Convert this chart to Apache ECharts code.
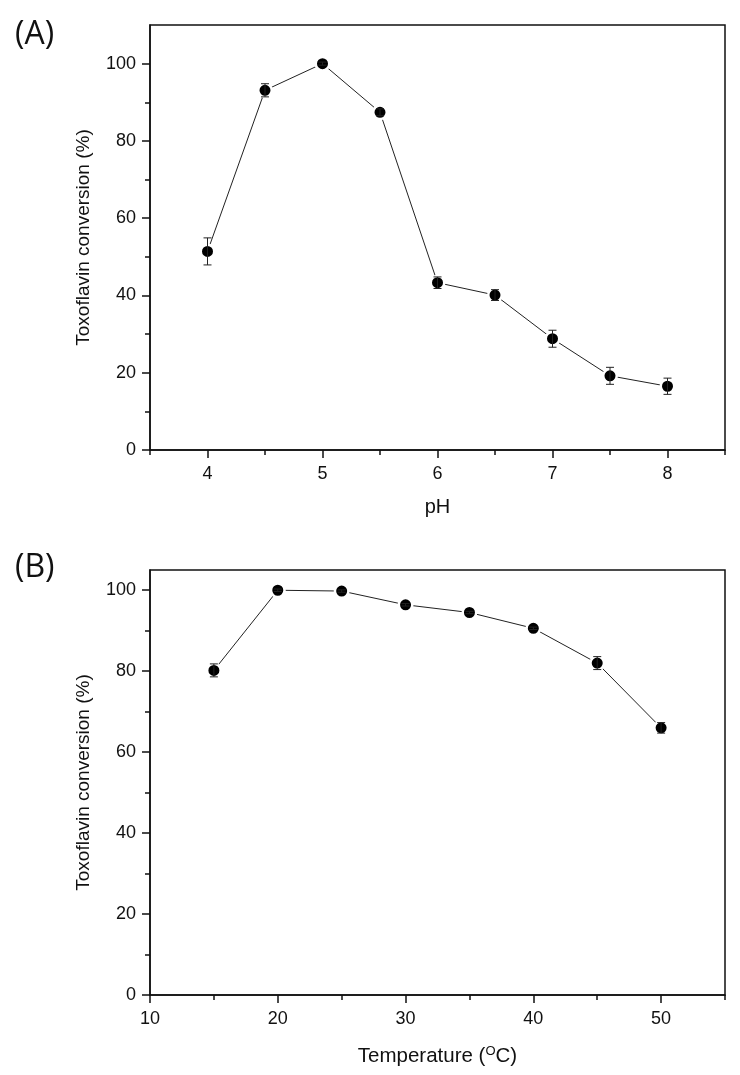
<!DOCTYPE html>
<html><head><meta charset="utf-8">
<script src="https://cdn.jsdelivr.net/npm/echarts@6/dist/echarts.min.js"></script>
<style>html,body{margin:0;padding:0;background:#fff}#c{width:740px;height:1075px}</style>
</head><body><div id="c"></div>
<script>
// Panel A: pH
const phX = [4, 4.5, 5, 5.5, 6, 6.5, 7, 7.5, 8];
const phMean = [51.4, 93.1, 100, 87.4, 43.3, 40.1, 28.8, 19.2, 16.5];
const phErr = [3.5, 1.7, 0.4, 0.9, 1.5, 1.4, 2.2, 2.2, 2.1];
const phTicks = [4, 5, 6, 7, 8];
const phMinor = [3.5, 4.5, 5.5, 6.5, 7.5, 8.5];
// Panel B: Temperature
const tempX = [15, 20, 25, 30, 35, 40, 45, 50];
const tempMean = [80.2, 100, 99.8, 96.4, 94.5, 90.6, 82.0, 66.0];
const tempErr = [1.6, 0.3, 0.3, 0.3, 0.3, 0.3, 1.6, 1.3];
const tempTicks = [10, 20, 30, 40, 50];
const tempMinor = [15, 25, 35, 45, 55];
// Shared y ticks
const yTicks = [0, 20, 40, 60, 80, 100];
const yMinor = [10, 30, 50, 70, 90];

const FONT = 'Liberation Sans, Arial, sans-serif';
const INK = '#111';
const chart = echarts.init(document.getElementById('c'), null, {renderer: 'canvas'});

function majorAxis(extra) {
  return Object.assign({
    type: 'value', offset: 0,
    axisLine: {show: true, onZero: false, lineStyle: {color: INK, width: 1.5}},
    splitLine: {show: false},
    nameLocation: 'middle',
    nameTextStyle: {fontSize: 19, color: INK, fontFamily: FONT}
  }, extra);
}
function minorAxis(extra, vals) {
  return Object.assign({
    type: 'value', offset: 0,
    axisLine: {show: false, onZero: false},
    axisTick: {show: true, inside: false, length: 5, customValues: vals, lineStyle: {color: INK, width: 1.5}},
    axisLabel: {show: false},
    splitLine: {show: false}
  }, extra);
}
function ticks(vals) {
  return {show: true, inside: false, length: 8, customValues: vals, lineStyle: {color: INK, width: 1.5}};
}
function labels(vals, margin) {
  return {show: true, margin: margin, fontSize: 18, color: INK, fontFamily: FONT, customValues: vals};
}
function errRender(params, api) {
  const x = api.value(0), m = api.value(1), e = api.value(2);
  const t = api.coord([x, m + e]), b = api.coord([x, m - e]);
  const w = 4;
  const st = {stroke: '#222', lineWidth: 1};
  return {type: 'group', children: [
    {type: 'line', shape: {x1: t[0], y1: t[1], x2: b[0], y2: b[1]}, style: st},
    {type: 'line', shape: {x1: t[0] - w, y1: t[1], x2: t[0] + w, y2: t[1]}, style: st},
    {type: 'line', shape: {x1: b[0] - w, y1: b[1], x2: b[0] + w, y2: b[1]}, style: st}
  ]};
}
function lineSeries(xi, yi, xs, ms) {
  return {
    type: 'line', xAxisIndex: xi, yAxisIndex: yi,
    data: xs.map((x, i) => [x, ms[i]]),
    symbol: 'circle', symbolSize: 13.5,
    itemStyle: {color: '#000', borderColor: '#fff', borderWidth: 2.5},
    lineStyle: {color: '#222', width: 1},
    z: 2, animation: false
  };
}
function errSeries(xi, yi, xs, ms, es) {
  return {
    type: 'custom', xAxisIndex: xi, yAxisIndex: yi,
    data: xs.map((x, i) => [x, ms[i], es[i]]),
    encode: {x: 0, y: 1},
    renderItem: errRender, z: 3, animation: false
  };
}

const option = {
  animation: false,
  backgroundColor: '#fff',
  grid: [
    {left: 150, right: 15, top: 25, height: 425, show: true, borderColor: INK, borderWidth: 1.5, backgroundColor: 'transparent'},
    {left: 150, right: 15, top: 570, height: 425, show: true, borderColor: INK, borderWidth: 1.5, backgroundColor: 'transparent'}
  ],
  xAxis: [
    majorAxis({gridIndex: 0, position: 'bottom', min: 3.5, max: 8.5,
      axisTick: ticks(phTicks), axisLabel: labels(phTicks, 15),
      name: 'pH', nameGap: 47,
      nameTextStyle: {fontSize: 20, color: INK, fontFamily: FONT}}),
    minorAxis({gridIndex: 0, position: 'bottom', min: 3.5, max: 8.5}, phMinor),
    majorAxis({gridIndex: 1, position: 'bottom', min: 10, max: 55,
      axisTick: ticks(tempTicks), axisLabel: labels(tempTicks, 15),
      name: '{a|Temperature (}{s|O}{a|C)}', nameGap: 50,
      nameTextStyle: {color: INK, fontFamily: FONT, rich: {
        a: {fontSize: 20.5, color: INK, fontFamily: FONT, lineHeight: 23},
        s: {fontSize: 13, color: INK, fontFamily: FONT, verticalAlign: 'top', lineHeight: 13}
      }}}),
    minorAxis({gridIndex: 1, position: 'bottom', min: 10, max: 55}, tempMinor)
  ],
  yAxis: [
    majorAxis({gridIndex: 0, position: 'left', min: 0, max: 110,
      axisTick: ticks(yTicks), axisLabel: labels(yTicks, 14),
      name: 'Toxoflavin conversion (%)', nameGap: 57}),
    minorAxis({gridIndex: 0, position: 'left', min: 0, max: 110}, yMinor),
    majorAxis({gridIndex: 1, position: 'left', min: 0, max: 105,
      axisTick: ticks(yTicks), axisLabel: labels(yTicks, 14),
      name: 'Toxoflavin conversion (%)', nameGap: 57}),
    minorAxis({gridIndex: 1, position: 'left', min: 0, max: 105}, yMinor)
  ],
  graphic: [
    {type: 'text', x: 15, y: 35, style: {text: '(A)', fontSize: 32, fontFamily: 'Open Sans, sans-serif', fill: INK, verticalAlign: 'middle'}},
    {type: 'text', x: 15, y: 568, style: {text: '(B)', fontSize: 32, fontFamily: 'Open Sans, sans-serif', fill: INK, verticalAlign: 'middle'}}
  ],
  series: [
    lineSeries(0, 0, phX, phMean),
    errSeries(0, 0, phX, phMean, phErr),
    lineSeries(2, 2, tempX, tempMean),
    errSeries(2, 2, tempX, tempMean, tempErr)
  ]
};
chart.setOption(option);
</script>
</body></html>
